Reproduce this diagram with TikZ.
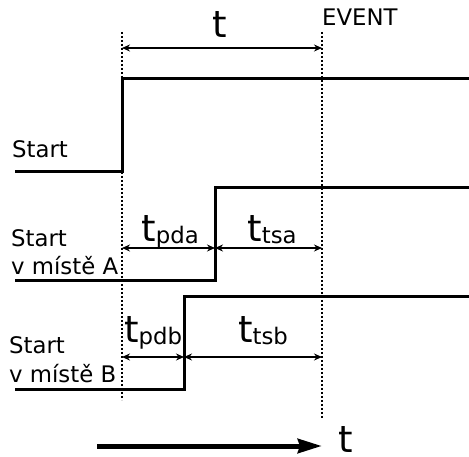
\documentclass[tikz,border=0pt]{standalone}
\usepackage{fontspec}
\setmainfont{DejaVu Sans}
\usepackage{tikz}
\usetikzlibrary{positioning, calc, arrows.meta}

\newcommand{\lblfont}{\fontsize{22.8}{25}\selectfont}
\newcommand{\tbig}{\fontsize{37}{37}\selectfont t}
\newcommand{\tlab}[1]{\tbig\raisebox{-2pt}{\lblfont #1}}

\begin{document}
\begin{tikzpicture}[
    x=1pt, y=-1pt,
    signal/.style={line width=3pt, line join=miter},
    marker/.style={line width=2.4pt, dash pattern=on 2pt off 2pt},
    span/.style={{Stealth[length=8pt,width=7pt]}-{Stealth[length=8pt,width=7pt]}, line width=2pt},
    lbl/.style={anchor=base west, inner sep=0pt, font=\lblfont, align=left},
    dimlbl/.style={anchor=base, inner sep=0pt},
  ]
    \useasboundingbox (0,0) rectangle (469,457);

    % time marks
    \coordinate (s0top) at (122,32);
    \coordinate (s0bot) at (122,400);
    \coordinate (evtop) at (322,32);
    \coordinate (evbot) at (322,418);
    \draw[marker] (s0top) -- (s0bot);
    \draw[marker] (evtop) -- (evbot);
    \node[anchor=base west, inner sep=0pt, font=\lblfont] (EV) at (322,26) {EVENT};

    % signals
    \draw[signal] (15,172) -- (122,172) -- (122,79) -- (469,79);
    \draw[signal] (15,281) -- (215,281) -- (215,188) -- (469,188);
    \draw[signal] (15,389) -- (184,389) -- (184,297) -- (469,297);

    \node[lbl] (START) at (12,158) {Start};
    \node[lbl] (STA) at (11,247) {Start};
    \node[lbl] (PLA) at (11,275) {v místě A};
    \node[lbl] (STB) at (9,353) {Start};
    \node[lbl] (PLB) at (9,382) {v místě B};

    % spans
    \coordinate (t0) at (122,48);  \coordinate (t1) at (322,48);
    \coordinate (a0) at (122,248); \coordinate (a1) at (215,248); \coordinate (a2) at (322,248);
    \coordinate (b0) at (122,357); \coordinate (b1) at (184,357); \coordinate (b2) at (322,357);
    \draw[span] (t0) -- (t1);
    \draw[span] (a0) -- (a1);
    \draw[span] (a1) -- (a2);
    \draw[span] (b0) -- (b1);
    \draw[span] (b1) -- (b2);

    \node[dimlbl] (T) at (220,38) {\tbig};
    \node[dimlbl] (TPDA) at (170,242) {\tlab{pda}};
    \node[dimlbl] (TTSA) at (272,242) {\tlab{tsa}};
    \node[dimlbl] (TPDB) at (153,342) {\tlab{pdb}};
    \node[dimlbl] (TTSB) at (263,342) {\tlab{tsb}};

    % time axis
    \coordinate (ax0) at (97,446);
    \coordinate (ax1) at (322,446);
    \draw[line width=5pt, -{Stealth[length=24pt,width=14pt,inset=2pt]}] (ax0) -- (ax1);
    \node[dimlbl] (TAX) at (346,452) {\tbig};
  \end{tikzpicture}
\end{document}
